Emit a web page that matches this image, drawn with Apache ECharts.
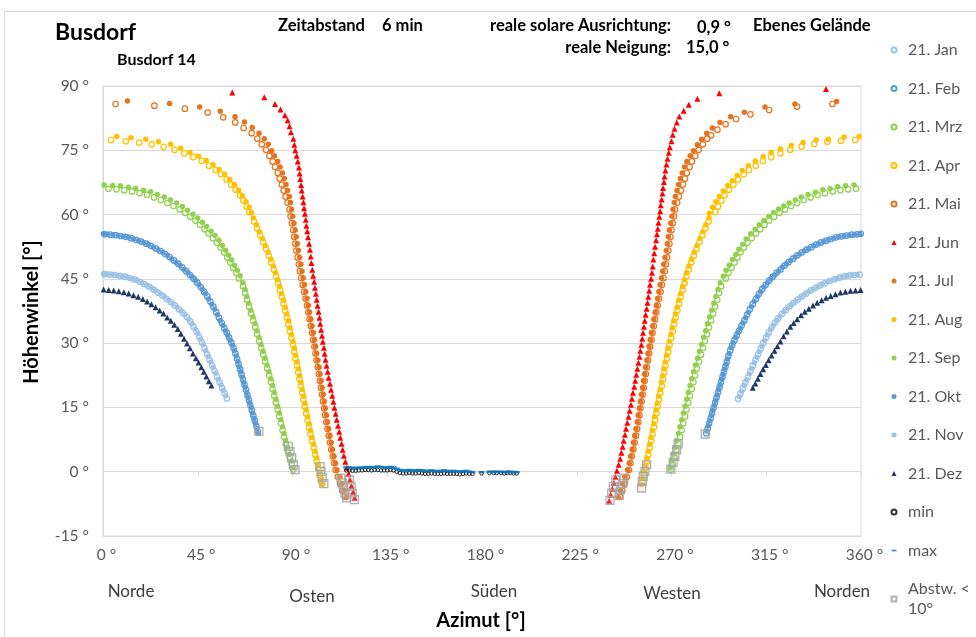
<!DOCTYPE html>
<html><head><meta charset="utf-8">
<script src="https://cdn.jsdelivr.net/npm/echarts@6/dist/echarts.min.js"></script>
<style>html,body{margin:0;padding:0;background:#fff}#c{width:976px;height:637px}</style>
</head><body><div id="c"></div>
<script>
// ---- data: azimuth [deg] and elevation [deg] (left branch, then right branch) ----
const janAz=[0.8,3.2,5.6,8.0,10.4,12.8,15.1,17.4,19.6,21.8,24.0,26.1,28.2,30.2,32.2,34.2,36.1,38.0,39.8,41.5,43.0,44.4,45.7,47.0,48.2,49.4,50.6,51.8,53.0,54.2,55.4,56.6,57.7,58.8,
301.6,302.7,303.9,305.1,306.3,307.5,308.7,309.9,311.1,312.3,313.5,314.9,316.2,317.6,319.1,320.7,322.4,324.2,326.1,328.0,330.0,332.0,334.1,336.2,338.4,340.6,342.8,345.1,347.4,349.8,352.2,354.6,357.0,359.4];
const janAlt=[46.1,46.0,45.9,45.7,45.5,45.2,44.8,44.3,43.8,43.2,42.5,41.8,41.1,40.3,39.6,38.8,37.9,37.0,36.1,35.0,33.8,32.6,31.4,30.1,28.8,27.4,26.1,24.8,23.5,22.1,20.8,19.5,18.3,17.1,
17.0,18.2,19.5,20.8,22.1,23.5,24.8,26.1,27.4,28.7,30.0,31.3,32.5,33.7,34.8,35.8,36.8,37.7,38.6,39.4,40.2,40.9,41.6,42.3,42.9,43.5,44.0,44.5,44.9,45.3,45.6,45.8,45.9,46.0];

const febAz=[0.9,3.4,5.9,8.4,10.9,13.3,15.7,18.1,20.5,22.8,25.1,27.3,29.5,31.6,33.7,35.7,37.6,39.5,41.3,43.1,44.8,46.4,48.0,49.5,51.0,52.4,53.8,55.1,56.4,57.6,58.8,59.9,61.0,62.0,62.9,63.7,64.4,65.1,65.8,66.5,67.2,67.9,68.6,69.3,70.0,70.7,71.4,72.1,72.8,73.5,
359.9,358.1,355.6,353.1,350.6,348.2,345.8,343.4,341.0,338.7,336.4,334.1,331.9,329.8,327.7,325.6,323.7,321.8,319.9,318.1,316.4,314.7,313.1,311.6,310.1,308.6,307.2,305.9,304.6,303.3,302.1,301.0,299.9,298.8,297.9,297.0,296.3,295.6,294.9,294.2,293.5,292.8,292.1,291.4,290.7,290.0,289.3,288.6,287.9,287.2,286.5];
const febAlt=[55.4,55.3,55.2,55.0,54.8,54.5,54.1,53.7,53.2,52.7,52.1,51.5,50.8,50.1,49.3,48.5,47.7,46.8,45.9,45.0,44.1,43.1,42.0,40.9,39.7,38.5,37.2,35.9,34.7,33.5,32.4,31.3,30.1,28.9,27.6,26.3,25.1,23.9,22.7,21.5,20.3,19.1,17.9,16.7,15.5,14.3,13.1,11.9,10.7,9.5,
55.5,55.4,55.3,55.1,54.9,54.7,54.3,53.9,53.5,53.0,52.4,51.8,51.2,50.5,49.7,48.9,48.1,47.2,46.4,45.5,44.6,43.6,42.6,41.5,40.3,39.1,37.9,36.6,35.3,34.1,32.9,31.8,30.7,29.5,28.3,27.0,25.7,24.5,23.3,22.1,20.9,19.7,18.5,17.3,16.1,14.9,13.7,12.5,11.3,10.1,9.0];

const mrzAz=[2.6,6.4,10.1,13.8,17.4,20.9,24.2,27.5,30.6,33.5,36.4,39.0,41.5,43.9,46.1,48.2,50.2,52.2,54.1,55.9,57.5,59.0,60.4,61.8,63.2,64.5,
66.5,67.5,68.4,69.4,70.3,71.3,72.3,73.2,74.2,75.1,76.1,77.0,78.0,78.9,79.7,80.5,81.3,82.1,82.9,83.7,84.5,85.3,86.0,86.8,87.7,88.6,89.6,90.4,
357.7,353.9,350.2,346.5,342.9,339.4,336.1,332.8,329.7,326.8,323.9,321.3,318.8,316.4,314.2,312.1,310.1,308.1,306.2,304.4,302.8,301.3,299.9,298.5,297.1,295.8,
293.6,292.6,291.7,290.7,289.8,288.8,287.8,286.9,285.9,285.0,284.0,283.1,282.1,281.2,280.4,279.6,278.8,278.0,277.2,276.4,275.6,274.8,274.1,273.3,272.4,271.5,270.5,269.7];
const mrzAlt=[66.0,65.9,65.7,65.4,65.0,64.6,64.0,63.4,62.7,62.0,61.2,60.4,59.5,58.6,57.6,56.6,55.6,54.5,53.4,52.3,51.2,50.0,48.8,47.6,46.4,45.1,
43.3,41.7,40.1,38.5,36.9,35.3,33.7,32.1,30.5,28.9,27.3,25.7,24.1,22.5,20.9,19.3,17.7,16.1,14.5,12.9,11.3,9.7,8.1,6.5,4.9,3.3,1.7,0.5,
66.0,65.9,65.7,65.4,65.0,64.6,64.0,63.4,62.7,62.0,61.2,60.4,59.5,58.6,57.6,56.6,55.6,54.5,53.4,52.3,51.2,50.0,48.8,47.6,46.4,45.1,
43.3,41.7,40.1,38.5,36.9,35.3,33.7,32.1,30.5,28.9,27.3,25.7,24.1,22.5,20.9,19.3,17.7,16.1,14.5,12.9,11.3,9.7,8.1,6.5,4.9,3.3,1.7,0.5];

const aprAz=[3.8,10.8,17.2,23.1,28.8,34.0,38.6,42.9,46.9,50.3,53.5,56.0,58.7,60.9,63.0,65.1,66.6,68.2,69.5,
71.7,73.2,74.6,76.0,77.4,78.7,79.9,81.1,82.2,83.1,84.0,84.9,85.7,86.5,87.3,88.0,88.7,89.5,90.2,90.8,91.4,92.1,92.7,93.3,93.9,94.6,95.2,95.8,96.5,97.1,97.8,98.5,99.2,100.0,100.7,101.4,102.1,102.9,103.6,
357.3,350.5,344.0,337.8,331.8,326.4,321.7,317.4,313.4,310.0,306.8,304.3,301.6,299.4,297.3,295.2,293.7,292.1,290.8,
287.6,286.1,284.7,283.3,281.9,280.6,279.4,278.2,277.1,276.2,275.3,274.4,273.6,272.8,272.0,271.3,270.6,269.8,269.1,268.5,267.9,267.2,266.6,266.0,265.4,264.7,264.1,263.5,262.8,262.2,261.7,261.0,260.4,259.7,259.0,258.3,257.6,256.9,256.2];
const aprAlt=[77.4,77.1,76.8,76.4,75.8,75.1,74.3,73.4,72.5,71.4,70.4,69.4,68.2,67.0,65.8,64.5,63.3,61.9,60.6,
58.4,56.8,55.2,53.6,52.0,50.4,48.8,47.2,45.6,44.0,42.4,40.8,39.2,37.6,36.0,34.4,32.8,31.2,29.6,28.0,26.4,24.8,23.2,21.6,20.0,18.4,16.8,15.2,13.6,12.0,10.4,8.8,7.2,5.6,4.0,2.4,0.8,-0.8,-2.4,
77.4,77.2,77.0,76.5,75.9,75.1,74.3,73.4,72.5,71.4,70.4,69.4,68.2,67.0,65.8,64.5,63.3,61.9,60.6,
58.4,56.8,55.2,53.6,52.0,50.4,48.8,47.2,45.6,44.0,42.4,40.8,39.2,37.6,36.0,34.4,32.8,31.2,29.6,28.0,26.4,24.8,23.2,21.6,20.0,18.4,16.8,15.2,13.6,12.0,10.4,8.8,7.2,5.6,4.0,2.4,0.8,-0.8,-2.4];

const maiAz=[6.0,24.4,38.9,49.7,57.1,62.8,66.8,70.6,73.3,75.4,77.4,79.0,80.6,81.7,83.0,83.9,84.9,85.8,86.7,87.6,
88.6,89.1,89.7,90.3,90.8,91.3,91.8,92.4,93.0,93.5,94.1,94.8,95.5,96.2,96.9,97.5,98.1,98.7,99.3,99.8,100.4,100.9,101.4,102.0,102.5,103.0,103.5,104.0,104.5,105.0,105.5,106.0,106.6,107.2,107.8,108.4,109.1,109.8,110.5,111.5,112.6,113.7,114.8,
346.4,329.6,316.4,307.5,300.7,295.7,291.8,288.8,287.0,284.9,282.9,281.3,279.7,278.6,277.3,276.4,275.4,274.5,273.6,272.7,
271.7,271.2,270.6,270.0,269.5,269.0,268.5,267.9,267.3,266.8,266.2,265.5,264.8,264.1,263.4,262.8,262.2,261.6,261.0,260.5,259.9,259.4,258.9,258.3,257.8,257.3,256.8,256.3,255.8,255.3,254.8,254.3,253.7,253.1,252.5,251.9,251.2,250.5,249.8,248.8,247.7,246.6,245.5];
const maiAlt=[85.8,85.4,84.7,83.8,82.7,81.5,80.2,79.0,77.7,76.4,75.1,73.7,72.4,71.1,69.7,68.4,67.0,65.6,64.2,62.8,
61.2,59.6,58.0,56.4,54.8,53.2,51.6,50.0,48.4,46.8,45.2,43.6,42.0,40.4,38.8,37.2,35.6,34.0,32.4,30.8,29.2,27.6,26.0,24.4,22.8,21.2,19.6,18.0,16.4,14.8,13.2,11.6,10.0,8.4,6.8,5.2,3.6,2.0,0.4,-1.2,-2.8,-4.4,-5.8,
85.8,85.2,84.4,83.4,82.3,81.1,79.8,78.5,77.7,76.4,75.1,73.7,72.4,71.1,69.7,68.4,67.0,65.6,64.2,62.8,
61.2,59.6,58.0,56.4,54.8,53.2,51.6,50.0,48.4,46.8,45.2,43.6,42.0,40.4,38.8,37.2,35.6,34.0,32.4,30.8,29.2,27.6,26.0,24.4,22.8,21.2,19.6,18.0,16.4,14.8,13.2,11.6,10.0,8.4,6.8,5.2,3.6,2.0,0.4,-1.2,-2.8,-4.4,-5.8];

const junAz=[61.4,76.6,81.7,84.3,86.4,87.7,88.6,89.3,90.4,90.9,91.3,92.0,92.5,93.1,93.4,93.7,94.1,94.4,94.8,95.2,95.5,95.9,96.3,96.6,97.0,97.4,97.9,98.3,98.7,99.0,99.4,99.8,100.3,100.7,101.1,101.5,101.9,102.4,102.8,103.2,103.6,104.0,104.4,104.9,105.3,105.7,106.2,106.7,107.2,107.8,108.3,108.9,109.4,109.9,110.5,111.0,111.6,112.2,112.7,113.3,113.8,114.4,115.1,115.8,116.6,117.3,118.0,118.8,119.5,
343.4,292.7,282.3,278.2,275.8,273.7,272.5,271.4,270.6,270.0,269.2,268.7,268.1,267.6,267.1,266.7,266.4,266.0,265.7,265.3,264.9,264.6,264.2,263.8,263.5,263.1,262.7,262.2,261.8,261.4,261.1,260.7,260.3,259.8,259.4,259.0,258.6,258.2,257.7,257.3,256.9,256.5,256.1,255.7,255.2,254.8,254.3,253.8,253.3,252.8,252.3,251.7,251.2,250.7,250.1,249.6,249.0,248.4,247.9,247.3,246.8,246.2,245.6,244.9,244.1,243.4,242.6,241.9,241.1,240.4];
const junAlt=[88.5,87.4,85.8,84.5,83.2,82.0,80.6,79.2,77.7,76.3,75.0,73.7,72.4,71.0,69.6,68.3,66.9,65.6,64.2,62.9,61.5,60.2,58.8,57.4,56.1,54.7,53.2,51.8,50.2,48.7,47.1,45.7,44.3,42.9,41.5,40.1,38.7,37.3,35.9,34.5,33.1,31.7,30.3,28.9,27.5,26.1,24.7,23.3,21.9,20.5,19.1,17.7,16.3,14.9,13.5,12.1,10.7,9.3,7.9,6.5,5.1,3.7,2.3,0.9,-0.5,-1.9,-3.3,-4.7,-6.1,
89.3,88.3,87.0,85.6,84.2,82.9,81.5,80.0,78.6,77.1,75.7,74.4,73.0,71.7,70.3,68.9,67.6,66.2,64.9,63.5,62.2,60.8,59.5,58.1,56.7,55.4,54.0,52.5,51.0,49.5,47.9,46.4,45.0,43.6,42.2,40.8,39.4,38.0,36.6,35.2,33.8,32.4,31.0,29.6,28.2,26.8,25.4,24.0,22.6,21.2,19.8,18.4,17.0,15.6,14.2,12.8,11.4,10.0,8.6,7.2,5.8,4.4,3.0,1.6,0.2,-1.2,-2.6,-4.0,-5.4,-6.8];

const julAz=[11.6,31.6,45.9,55.7,62.7,67.2,70.9,74.1,76.6,78.5,80.1,81.4,83.0,84.1,85.2,86.1,86.9,87.7,88.5,
89.0,89.6,90.1,90.7,91.3,91.8,92.3,92.8,93.4,94.0,94.5,95.1,95.7,96.3,96.9,97.5,98.1,98.7,99.3,99.9,100.4,101.0,101.5,102.0,102.6,103.1,103.6,104.1,104.6,105.1,105.6,106.1,106.6,107.2,107.8,108.4,109.0,109.7,110.4,111.1,112.5,113.5,114.5,115.5,
348.4,328.6,314.4,304.6,298.1,293.0,289.4,286.7,284.3,282.3,280.4,278.9,277.3,276.2,275.1,274.2,273.4,272.6,271.8,
271.3,270.7,270.2,269.6,269.0,268.5,268.0,267.5,266.9,266.3,265.8,265.2,264.6,264.0,263.4,262.8,262.2,261.6,261.0,260.4,259.9,259.3,258.8,258.3,257.7,257.2,256.7,256.2,255.7,255.2,254.7,254.2,253.7,253.1,252.5,251.9,251.3,250.6,249.9,249.2,247.8,246.8,245.8,244.8];
const julAlt=[86.5,85.9,85.1,84.1,82.8,81.6,80.3,79.0,77.7,76.4,74.9,73.7,72.4,71.1,69.7,68.4,67.0,65.6,64.2,
62.8,61.2,59.6,58.0,56.4,54.8,53.2,51.6,50.0,48.4,46.8,45.2,43.6,42.0,40.4,38.8,37.2,35.6,34.0,32.4,30.8,29.2,27.6,26.0,24.4,22.8,21.2,19.6,18.0,16.4,14.8,13.2,11.6,10.0,8.4,6.8,5.2,3.6,2.0,0.4,-1.2,-2.8,-4.4,-6.0,
86.4,85.8,85.1,83.9,82.8,81.5,80.2,79.0,77.6,76.3,74.9,73.7,72.4,71.1,69.7,68.4,67.0,65.6,64.2,
62.8,61.2,59.6,58.0,56.4,54.8,53.2,51.6,50.0,48.4,46.8,45.2,43.6,42.0,40.4,38.8,37.2,35.6,34.0,32.4,30.8,29.2,27.6,26.0,24.4,22.8,21.2,19.6,18.0,16.4,14.8,13.2,11.6,10.0,8.4,6.8,5.2,3.6,2.0,0.4,-1.2,-2.8,-4.4,-6.0];

const augAz=[6.5,13.3,20.3,26.3,32.2,36.9,41.3,45.4,49.0,52.3,55.2,57.8,60.2,62.4,64.4,66.2,67.9,69.4,70.5,
71.4,72.9,74.3,75.7,77.1,78.4,79.7,80.9,82.0,83.0,83.9,84.8,85.7,86.5,87.3,88.1,88.8,89.5,90.2,90.9,91.5,92.2,92.8,93.4,94.0,94.6,95.3,95.9,96.5,97.2,97.9,98.6,99.3,100.0,100.7,101.5,102.2,102.9,103.6,104.3,
359.1,352.0,344.5,338.7,332.5,326.9,321.7,317.3,313.5,309.8,306.5,303.6,301.1,298.9,296.7,294.6,292.7,291.1,289.5,288.0,
287.8,286.3,284.9,283.5,282.1,280.8,279.5,278.3,277.2,276.2,275.3,274.4,273.5,272.7,271.9,271.1,270.4,269.7,269.0,268.3,267.7,267.0,266.4,265.8,265.2,264.6,263.9,263.3,262.7,262.0,261.6,260.9,260.3,259.7,259.0,258.3,257.6,256.9,256.2,255.6];
const augAlt=[78.2,77.9,77.6,77.0,76.4,75.5,74.5,73.6,72.6,71.6,70.5,69.4,68.2,67.0,65.7,64.4,63.0,61.7,60.4,
59.2,57.6,56.0,54.4,52.8,51.2,49.6,48.0,46.4,44.8,43.2,41.6,40.0,38.4,36.8,35.2,33.6,32.0,30.4,28.8,27.2,25.6,24.0,22.4,20.8,19.2,17.6,16.0,14.4,12.8,11.2,9.6,8.0,6.4,4.8,3.2,1.6,0.0,-1.6,-3.0,
78.2,78.1,77.6,77.4,76.8,76.1,75.3,74.5,73.5,72.5,71.4,70.3,69.1,67.9,66.8,65.5,64.2,63.0,61.7,60.3,
59.2,57.6,56.0,54.4,52.8,51.2,49.6,48.0,46.4,44.8,43.2,41.6,40.0,38.4,36.8,35.2,33.6,32.0,30.4,28.8,27.2,25.6,24.0,22.4,20.8,19.2,17.6,16.0,14.4,12.8,11.2,9.6,8.0,6.4,4.8,3.2,1.6,0.0,-1.6,-3.0];

const sepAz=[0.5,4.6,8.2,12.0,15.5,19.3,22.6,25.8,29.1,32.0,35.0,37.7,40.2,42.7,45.0,47.2,49.2,51.3,53.2,55.1,56.7,58.3,59.7,61.1,62.5,63.8,65.1,
66.4,67.4,68.3,69.3,70.2,71.2,72.2,73.1,74.1,75.0,76.0,76.9,77.9,78.8,79.7,80.5,81.3,82.1,82.9,83.7,84.5,85.3,86.0,86.8,87.6,88.6,89.5,90.5,
356.7,352.7,348.9,345.3,341.8,338.4,334.8,331.6,328.8,325.9,323.3,320.9,318.5,316.2,313.8,311.7,309.7,307.6,305.5,303.8,302.0,300.5,298.9,297.4,295.9,294.6,
293.2,292.1,291.1,290.1,289.1,288.1,287.1,286.2,285.2,284.3,283.3,282.4,281.4,280.5,279.6,278.8,278.0,277.2,276.4,275.6,274.8,274.0,273.3,272.5,271.8,271.0,270.2,269.4];
const sepAlt=[66.9,66.8,66.7,66.4,66.1,65.7,65.3,64.7,64.1,63.4,62.7,61.9,61.0,60.1,59.2,58.2,57.2,56.1,55.1,54.0,52.8,51.7,50.5,49.4,48.1,47.0,45.7,
44.1,42.5,40.9,39.3,37.7,36.1,34.5,32.9,31.3,29.7,28.1,26.5,24.9,23.3,21.7,20.1,18.5,16.9,15.3,13.7,12.1,10.5,8.9,7.3,5.7,4.1,2.5,0.9,
66.9,66.7,66.5,66.0,65.8,65.2,64.7,64.1,63.4,62.7,62.0,61.3,60.5,59.6,58.6,57.6,56.6,55.5,54.3,53.1,51.9,50.7,49.5,48.2,47.0,45.6,
44.1,42.5,40.9,39.3,37.7,36.1,34.5,32.9,31.3,29.7,28.1,26.5,24.9,23.3,21.7,20.1,18.5,16.9,15.3,13.7,12.1,10.5,8.9,7.3,5.7,4.1,2.5,0.9];

const oktAz=[0.2,2.2,4.7,7.2,9.7,12.1,14.5,16.9,19.3,21.6,23.9,26.2,28.4,30.5,32.6,34.7,36.6,38.5,40.4,42.2,43.9,45.6,47.2,48.7,50.2,51.7,53.1,54.4,55.7,57.0,58.2,59.3,60.4,61.5,62.4,63.3,64.0,64.7,65.4,66.1,66.8,67.5,68.2,68.9,69.6,70.3,71.0,71.7,72.4,73.1,73.8,
359.4,356.9,354.4,351.9,349.4,347.0,344.6,342.2,339.8,337.5,335.2,333.0,330.8,328.7,326.6,324.6,322.7,320.8,319.0,317.2,315.5,313.9,312.3,310.8,309.3,307.9,306.5,305.2,303.9,302.7,301.5,300.4,299.3,298.3,297.4,296.6,295.9,295.2,294.5,293.8,293.1,292.4,291.7,291.0,290.3,289.6,288.9,288.2,287.5,286.8];
const oktAlt=[55.5,55.4,55.3,55.1,54.9,54.7,54.3,53.9,53.5,53.0,52.4,51.8,51.2,50.5,49.7,48.9,48.1,47.2,46.4,45.5,44.6,43.6,42.6,41.5,40.3,39.1,37.9,36.6,35.3,34.1,32.9,31.8,30.7,29.5,28.3,27.0,25.7,24.5,23.3,22.1,20.9,19.7,18.5,17.3,16.1,14.9,13.7,12.5,11.3,10.1,9.0,
55.4,55.3,55.2,55.0,54.8,54.5,54.1,53.7,53.2,52.7,52.1,51.5,50.8,50.1,49.3,48.5,47.7,46.8,45.9,45.0,44.1,43.1,42.0,40.9,39.7,38.5,37.2,35.9,34.7,33.5,32.4,31.3,30.1,28.9,27.6,26.3,25.1,23.9,22.7,21.5,20.3,19.1,17.9,16.7,15.5,14.3,13.1,11.9,10.7,9.5];

const novAz=[0.3,2.0,4.4,6.8,9.2,11.6,13.9,16.2,18.5,20.7,22.9,25.0,27.1,29.2,31.2,33.2,35.2,37.1,38.9,40.7,42.3,43.8,45.1,46.4,47.6,48.8,50.0,51.2,52.4,53.6,54.8,56.0,57.2,58.3,
302.2,303.3,304.5,305.7,306.9,308.1,309.3,310.5,311.7,312.9,314.2,315.5,316.9,318.4,319.9,321.5,323.3,325.1,327.0,329.0,331.0,333.0,335.1,337.3,339.5,341.7,344.0,346.3,348.6,351.0,353.4,355.8,358.2];
const novAlt=[46.2,46.1,46.0,45.8,45.6,45.4,45.0,44.6,44.1,43.5,42.9,42.2,41.5,40.8,40.0,39.2,38.4,37.5,36.6,35.6,34.5,33.3,32.2,30.9,29.6,28.2,26.9,25.6,24.3,23.0,21.6,20.3,19.0,17.7,
17.5,18.8,20.1,21.4,22.8,24.1,25.4,26.7,28.0,29.3,30.6,31.9,33.1,34.2,35.3,36.3,37.3,38.2,39.0,39.8,40.6,41.3,42.0,42.6,43.2,43.8,44.3,44.7,45.1,45.5,45.7,45.9,46.0];

const dezAz=[0.3,2.7,5.1,7.5,9.9,12.2,14.5,16.7,18.9,21.0,23.0,25.0,26.9,28.7,30.5,32.2,33.9,35.5,37.0,38.5,39.9,41.3,42.7,44.1,45.4,46.7,47.9,49.1,50.3,51.5,
308.6,309.8,311.0,312.2,313.5,314.8,316.1,317.5,318.9,320.3,321.7,323.2,324.8,326.4,328.0,329.7,331.5,333.3,335.2,337.2,339.2,341.3,343.4,345.6,347.9,350.2,352.6,355.0,357.4,359.8];
const dezAlt=[42.5,42.4,42.3,42.1,41.9,41.6,41.2,40.8,40.3,39.7,39.1,38.4,37.6,36.9,36.0,35.2,34.3,33.3,32.2,31.0,29.9,28.8,27.6,26.5,25.5,24.4,23.3,22.2,21.1,20.1,
19.6,20.6,21.7,22.8,23.9,24.9,26.0,27.1,28.2,29.3,30.4,31.6,32.7,33.8,34.7,35.6,36.5,37.3,38.0,38.8,39.4,40.0,40.6,41.0,41.4,41.8,42.0,42.2,42.3,42.4];

const horAz=[115.5,117,118.5,120,121.5,123,124.5,126,127.5,129,130.5,132,133.5,135,136.5,138,139.5,141,142.5,144,145.5,147,148.5,150,151.5,153,154.5,156,157.5,159,160.5,162,163.5,165,166.5,168,169.5,171,172.5,174,175.5,179.8,183.5,185.5,187,189,190.5,192,193.5,195,196.5];
const maxAlt=[1.0,1.0,0.9,0.9,0.9,1.0,1.0,1.1,1.0,1.1,1.2,1.1,1.0,1.0,1.1,1.0,0.7,0.4,0.3,0.3,0.4,0.3,0.3,0.4,0.3,0.2,0.2,0.3,0.2,0.1,0.2,0.3,0.2,0.1,0.2,0.1,0.0,0.1,0.2,0.0,-0.1,-0.1,0.0,0.0,0.0,0.0,-0.1,0.0,0.0,-0.1,-0.1];
const minAlt=[0.3,0.3,0.2,0.2,0.3,0.3,0.4,0.4,0.3,0.4,0.4,0.3,0.3,0.3,0.4,0.3,0.0,-0.3,-0.4,-0.4,-0.3,-0.4,-0.4,-0.3,-0.4,-0.5,-0.5,-0.4,-0.5,-0.5,-0.5,-0.4,-0.5,-0.5,-0.5,-0.5,-0.6,-0.5,-0.4,-0.5,-0.5,-0.4,-0.3,-0.3,-0.3,-0.3,-0.4,-0.3,-0.3,-0.4,-0.4];

const nearAz=[74.0,88.0,88.8,89.6,90.4,91.2,103.1,103.5,104.1,104.9,113.0,113.6,114.1,114.9,115.7,117.0,117.8,118.4,119.4,
286.0,273.2,272.4,271.6,270.8,269.7,258.2,257.4,256.6,256.1,255.8,247.4,246.8,245.8,245.2,243.6,242.4,241.6,240.8];
const nearAlt=[9.4,5.9,4.7,3.2,1.6,0.5,1.2,0.1,-1.3,-2.8,-1.5,-2.6,-3.8,-5.0,-6.1,-1.9,-3.4,-5.0,-6.5,
8.8,6.5,5.1,3.6,2.2,0.6,1.6,0.1,-1.1,-2.3,-3.8,-1.5,-2.8,-4.2,-5.6,-1.9,-3.4,-5.0,-6.7];

const xTicks=[0,45,90,135,180,225,270,315,360];
const directions=[['Norde',131,592],['Osten',312,597],['Süden',494,592],['Westen',672,594],['Norden',842,592]];

// ---- build ----
function pts(a,b){const n=Math.min(a.length,b.length),r=[];for(let i=0;i<n;i++)r.push([a[i],b[i]]);return r;}
const FONT='Lato, "Liberation Sans", sans-serif';
function hollow(name,color,az,alt){return{name,type:'scatter',data:pts(az,alt),symbol:'circle',symbolSize:5.5,
  itemStyle:{color:'rgba(255,255,255,0)',borderColor:color,borderWidth:1.2,opacity:1}};}
function filled(name,color,az,alt){return{name,type:'scatter',data:pts(az,alt),symbol:'circle',symbolSize:5.5,
  itemStyle:{color:color,opacity:1}};}
function tri(name,color,az,alt){return{name,type:'scatter',data:pts(az,alt),symbol:'triangle',symbolSize:6,
  itemStyle:{color:color,opacity:1}};}

const cJan='#9dc3e6',cFeb='#5b9bd5',cMrz='#92d050',cApr='#ffc000',cMai='#e8731e',cJun='#ff0000',cDez='#1f3864';
const series=[
  hollow('21. Jan',cJan,janAz,janAlt),
  hollow('21. Feb',cFeb,febAz,febAlt),
  hollow('21. Mrz',cMrz,mrzAz,mrzAlt),
  hollow('21. Apr',cApr,aprAz,aprAlt),
  hollow('21. Mai',cMai,maiAz,maiAlt),
  tri('21. Jun',cJun,junAz,junAlt),
  filled('21. Jul',cMai,julAz,julAlt),
  filled('21. Aug',cApr,augAz,augAlt),
  filled('21. Sep',cMrz,sepAz,sepAlt),
  filled('21. Okt',cFeb,oktAz,oktAlt),
  filled('21. Nov',cJan,novAz,novAlt),
  tri('21. Dez',cDez,dezAz,dezAlt),
  {name:'min',type:'scatter',data:pts(horAz,minAlt),symbol:'circle',symbolSize:3.5,
   itemStyle:{color:'rgba(255,255,255,0)',borderColor:'#000',borderWidth:1}},
  {name:'max',type:'scatter',data:pts(horAz,maxAlt),symbol:'rect',symbolSize:[6,2.5],
   itemStyle:{color:'#0070c0'}},
  {name:'Abstw. < 10°',type:'scatter',data:pts(nearAz,nearAlt),symbol:'rect',symbolSize:8,
   itemStyle:{color:'rgba(190,190,190,0.25)',borderColor:'#a0a0a0',borderWidth:1.3}}
];

const texts=[];
function txt(t,x,y,size,bold,align,color,rot){
  texts.push({type:'text',x:x,y:y,rotation:rot||0,silent:true,z:100,
   style:{text:t,font:(bold?'bold ':'')+size+'px '+FONT,fill:color||'#000',
   textAlign:align||'left',align:align||'left',textVerticalAlign:'middle',verticalAlign:'middle'}});
}
txt('Busdorf',55,33,23,true);
txt('Busdorf 14',117,60,16,true);
txt('Zeitabstand',278,26,16.5,true);
txt('6 min',382,26,16.5,true);
txt('reale solare Ausrichtung:',671,26,16.5,true,'right');
txt('0,9 °',697,28,16.5,true);
txt('Ebenes Gelände',753,26,16.5,true);
txt('reale Neigung:',671,48,16.5,true,'right');
txt('15,0 °',686,48,16.5,true);
txt('Azimut [°]',481,621,20,true,'center');
txt('Höhenwinkel [°]',32,312,20,true,'center','#000',Math.PI/2);
directions.forEach(d=>txt(d[0],d[1],d[2],17,false,'center','#404040'));

const legendData=series.map(s=>s.name==='max'?{name:'max',icon:'path://M0,0 L12,0 L12,4 L0,4 Z'}:{name:s.name});

const chart=echarts.init(document.getElementById('c'),null,{renderer:'canvas'});
chart.setOption({
  animation:false,
  backgroundColor:'#fff',
  grid:{left:103,top:86,width:758,height:450,show:true,borderColor:'#d9d9d9',borderWidth:1,backgroundColor:'transparent'},
  xAxis:{type:'value',min:xTicks[0],max:xTicks[xTicks.length-1],interval:45,
    axisLine:{show:true,lineStyle:{color:'#d9d9d9'}},
    axisTick:{show:true,length:5,lineStyle:{color:'#d9d9d9'}},
    splitLine:{show:false},
    axisLabel:{formatter:'{value} °',color:'#595959',fontSize:15.5,fontFamily:FONT,margin:11,padding:[0,0,0,7]}},
  yAxis:{type:'value',min:-15,max:90,interval:15,
    axisLine:{show:true,lineStyle:{color:'#d9d9d9'}},
    axisTick:{show:false},
    splitLine:{show:true,lineStyle:{color:'#d9d9d9',width:1}},
    axisLabel:{formatter:'{value} °',color:'#595959',fontSize:15.5,fontFamily:FONT,margin:14}},
  legend:{orient:'vertical',left:890.5,top:40,padding:0,itemWidth:5,itemHeight:5,itemGap:18.5,selectedMode:false,
    textStyle:{color:'#595959',fontSize:16,fontFamily:FONT,lineHeight:20,padding:[0,0,0,6.5]},
    formatter:function(n){return n==='Abstw. < 10°'?'Abstw. <\n10°':n;},
    data:legendData},
  graphic:[
    {type:'rect',shape:{x:4.5,y:11.5,width:1100,height:800},style:{fill:'none',stroke:'#d9d9d9',lineWidth:1},silent:true,z:-1}
  ].concat(texts),
  series:series
});
</script></body></html>
